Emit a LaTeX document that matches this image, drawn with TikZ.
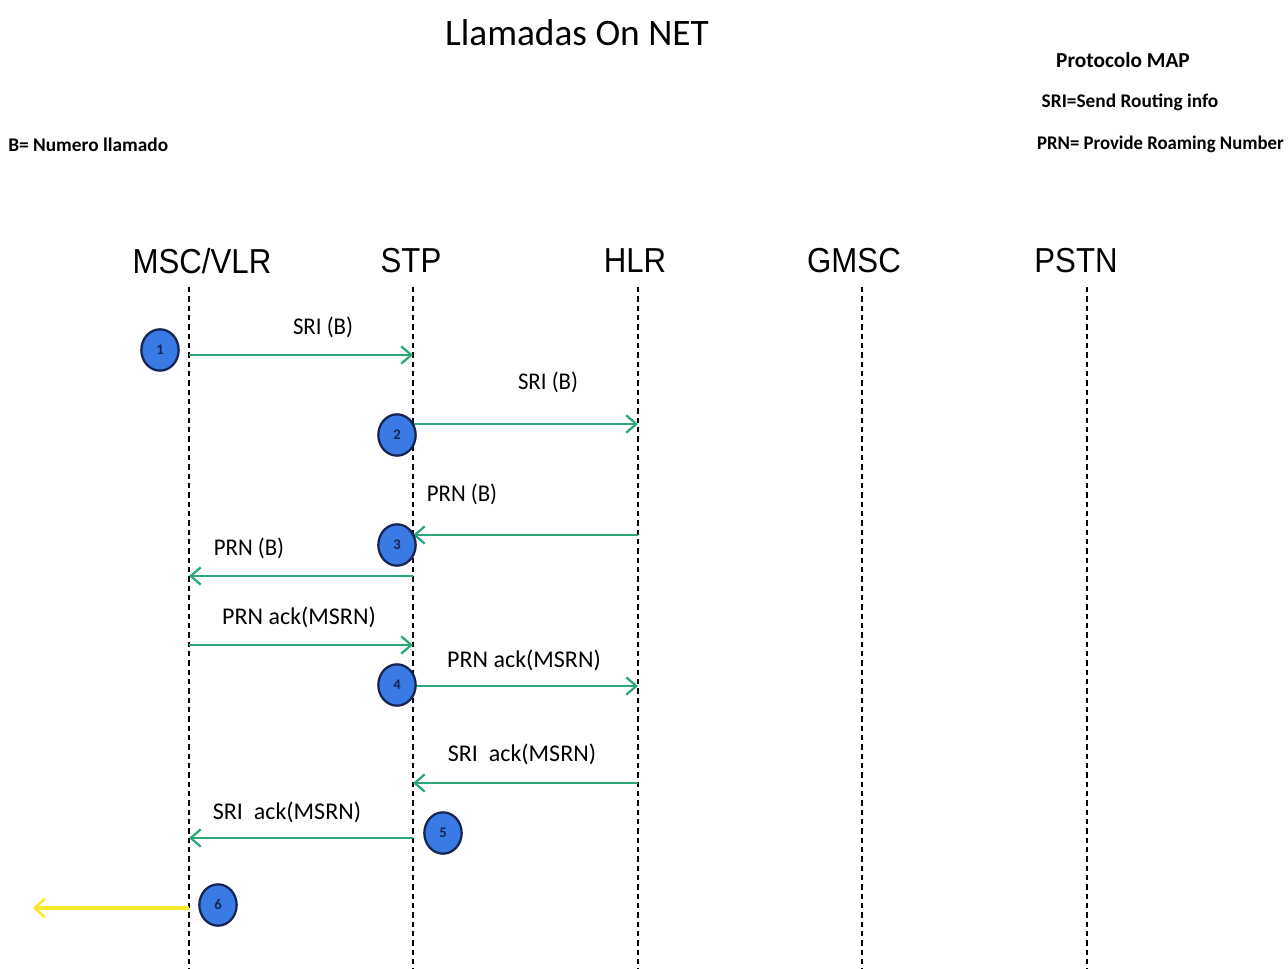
\documentclass[tikz,border=0pt]{standalone}
\usepackage{fontspec}
\setmainfont{Carlito}
\newfontfamily\headfont{Liberation Sans}
\usetikzlibrary{arrows.meta,shapes.geometric}
\definecolor{msggreen}{RGB}{44,168,118}
\definecolor{ballblue}{RGB}{58,122,228}
\definecolor{ballrim}{RGB}{22,36,82}
\definecolor{exityellow}{RGB}{246,234,40}
\newcommand{\narrow}[2]{\scalebox{#1}[1]{#2}}
\begin{document}
\begin{tikzpicture}[x=0.75pt,y=-0.75pt,
  title/.style={font=\fontsize{28}{32}\selectfont, inner sep=0pt},
  head/.style={font=\headfont\fontsize{26}{30}\selectfont, inner sep=0pt},
  note/.style={font=\bfseries\fontsize{14.5}{17}\selectfont, inner sep=0pt},
  lbl/.style={font=\fontsize{18}{21}\selectfont, inner sep=0pt},
  lifeline/.style={draw=black, line width=1.3pt, dash pattern=on 4pt off 3pt},
  msg/.style={draw=msggreen, line width=2.2pt,
    -{Straight Barb[length=7.5pt,width=13pt,line width=1.7pt]}},
  exitmsg/.style={draw=exityellow, line width=2.5pt,
    -{Straight Barb[length=7.5pt,width=14pt,line width=1.9pt]}},
  ball/.style={ellipse, draw=ballrim, line width=1.7pt, fill=ballblue,
    minimum width=28pt, minimum height=31pt, inner sep=0pt,
    font=\bfseries\fontsize{11}{12}\selectfont, text=ballrim}
]
\useasboundingbox (0,0) rectangle (1288,969);

% title and legend
\node[title] (ttl) at (577,33) {Llamadas On NET};
\node[note, font=\bfseries\fontsize{16}{19}\selectfont] (proto) at (1123,60) {Protocolo MAP};
\node[note] (sri) at (1130,102) {SRI=Send Routing info};
\node[note, anchor=east] (prn) at (1284,144) {\narrow{0.97}{PRN= Provide Roaming Number}};
\node[note, anchor=west] (bnum) at (8,145) {B= Numero llamado};

% entity headers
\node[head] (msc)  at (202,261) {\narrow{0.9}{MSC/VLR}};
\node[head] (stp)  at (411,261) {\narrow{0.9}{STP}};
\node[head] (hlr)  at (635,261) {\narrow{0.9}{HLR}};
\node[head] (gmsc) at (854,261) {\narrow{0.9}{GMSC}};
\node[head] (pstn) at (1076,261) {\narrow{0.9}{PSTN}};

% lifelines
\foreach \n/\x in {msc/189, stp/413, hlr/638, gmsc/862, pstn/1087}{
  \coordinate (\n T) at (\x,287);
  \coordinate (\n B) at (\x,969);
  \draw[lifeline] (\n T) -- (\n B);
}

% message end points on the lifelines
\coordinate (a1) at (189,355);  \coordinate (b1) at (413,355);
\coordinate (a2) at (413,424);  \coordinate (b2) at (638,424);
\coordinate (a3) at (638,535);  \coordinate (b3) at (413,535);
\coordinate (a4) at (413,576);  \coordinate (b4) at (189,576);
\coordinate (a5) at (189,645);  \coordinate (b5) at (413,645);
\coordinate (a6) at (413,686);  \coordinate (b6) at (638,686);
\coordinate (a7) at (638,783);  \coordinate (b7) at (413,783);
\coordinate (a8) at (413,838);  \coordinate (b8) at (189,838);
\coordinate (a9) at (189,908);  \coordinate (out) at (33,908);

% messages
\draw[msg] (a1) -- (b1);
\draw[msg] (a2) -- (b2);
\draw[msg] (a3) -- (b3);
\draw[msg] (a4) -- (b4);
\draw[msg] (a5) -- (b5);
\draw[msg] (a6) -- (b6);
\draw[msg] (a7) -- (b7);
\draw[msg] (a8) -- (b8);
\draw[exitmsg] (a9) -- (out);

% message labels
\node[lbl] (l1) at (323,327) {\narrow{0.95}{SRI (B)}};
\node[lbl] (l2) at (548,382) {\narrow{0.95}{SRI (B)}};
\node[lbl] (l3) at (462,494) {\narrow{0.95}{PRN (B)}};
\node[lbl] (l4) at (249,548) {\narrow{0.95}{PRN (B)}};
\node[lbl] (l5) at (299,617) {PRN ack(MSRN)};
\node[lbl] (l6) at (524,660) {PRN ack(MSRN)};
\node[lbl] (l7) at (522,754) {SRI\ \ ack(MSRN)};
\node[lbl] (l8) at (287,812) {SRI\ \ ack(MSRN)};

% step markers
\node[ball] (s1) at (160,350) {1};
\node[ball] (s2) at (397,435) {2};
\node[ball] (s3) at (397,545) {3};
\node[ball] (s4) at (397,685) {4};
\node[ball] (s5) at (443,833) {5};
\node[ball] (s6) at (218,905) {6};
\end{tikzpicture}
\end{document}
